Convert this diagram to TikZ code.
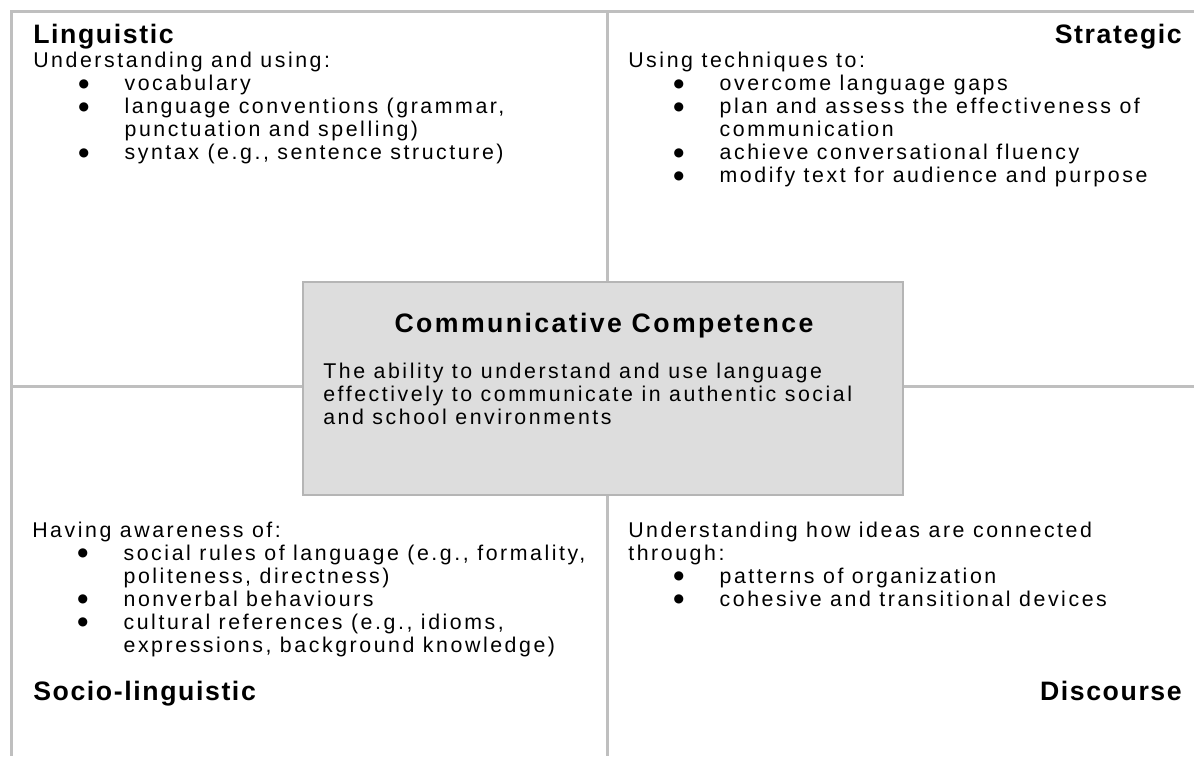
\documentclass[tikz,border=0pt]{standalone}
\usepackage{fontspec}
\setmainfont{Liberation Sans}[LetterSpace=12]
\newfontfamily\headfam{Liberation Sans}[LetterSpace=6]
\newfontfamily\corefam{Liberation Sans}[LetterSpace=9]
\newfontfamily\dotfam{DejaVu Sans}

\definecolor{rulegray}{HTML}{BFBFBF}
\definecolor{corefill}{HTML}{DDDDDD}
\definecolor{coreline}{HTML}{B5B5B5}

\newcommand{\bodyfont}{\fontsize{16}{17.25}\selectfont}
\newcommand{\headfont}{\headfam\fontsize{20}{22}\selectfont\bfseries}
\newcommand{\coretitlefont}{\corefam\fontsize{20}{22}\selectfont\bfseries}

% text block whose baseline is that of its first line
\newcommand{\blk}[1]{\begin{tabular}[t]{@{}l@{}}#1\end{tabular}}
% bullet list lines: indent to the dot, then gap to the item text
\newlength\dotindent \setlength\dotindent{34pt}
\newlength\dotgap \setlength\dotgap{34.5pt}
\newcommand{\bigdot}{\raisebox{2.4pt}{\dotfam\fontsize{9}{9}\selectfont ●}}
\newcommand{\bul}[1]{\hspace*{\dotindent}\makebox[\dotgap][l]{\bigdot}#1}
\newcommand{\cont}[1]{\hspace*{\dotindent}\hspace*{\dotgap}#1}

\begin{document}
\begin{tikzpicture}[x=0.75pt, y=-0.75pt,
    rule/.style={draw=rulegray, line width=2.25pt},
    corebox/.style={draw=coreline, fill=corefill, line width=1.2pt,
      inner sep=0pt, minimum width=450pt, minimum height=159.75pt},
    body/.style={anchor=base west, inner sep=0pt, font=\bodyfont},
    head/.style={inner sep=0pt, font=\headfont}]
  \useasboundingbox (0,0) rectangle (1194,756);

  % quadrant rules
  \draw[rule] (1194,12) -- (11,12) -- (11,756);
  \draw[rule] (607,12) -- (607,756);
  \draw[rule] (11,386) -- (1194,386);

  % centre box
  \node[corebox] (core) at (603,388.5) {};
  \node[head, anchor=base, font=\coretitlefont]
    (coretitle) at (604,332) {Communicative Competence};
  \node[body] (coretext) at (323,378) {\blk{The ability to understand and use language\\
    effectively to communicate in authentic social\\and school environments}};

  % Linguistic
  \node[head, anchor=base west] (ling) at (33,44) {Linguistic};
  \node[body] (lingtext) at (33,68) {\blk{Understanding and using:\\
    \bul{vocabulary}\\
    \bul{language conventions (grammar,}\\
    \cont{punctuation and spelling)}\\
    \bul{syntax (e.g., sentence structure)}}};

  % Strategic
  \node[head, anchor=base east] (strat) at (1182,44) {Strategic};
  \node[body] (strattext) at (628,68) {\blk{Using techniques to:\\
    \bul{overcome language gaps}\\
    \bul{plan and assess the effectiveness of}\\
    \cont{communication}\\
    \bul{achieve conversational fluency}\\
    \bul{modify text for audience and purpose}}};

  % Socio-linguistic
  \node[body] (sociotext) at (32,537) {\blk{Having awareness of:\\
    \bul{social rules of language (e.g., formality,}\\
    \cont{politeness, directness)}\\
    \bul{nonverbal behaviours}\\
    \bul{cultural references (e.g., idioms,}\\
    \cont{expressions, background knowledge)}}};
  \node[head, anchor=base west] (socio) at (33,700) {Socio-linguistic};

  % Discourse
  \node[body] (disctext) at (628,537) {\blk{Understanding how ideas are connected\\
    through:\\
    \bul{patterns of organization}\\
    \bul{cohesive and transitional devices}}};
  \node[head, anchor=base east] (disc) at (1182,700) {Discourse};
\end{tikzpicture}
\end{document}
